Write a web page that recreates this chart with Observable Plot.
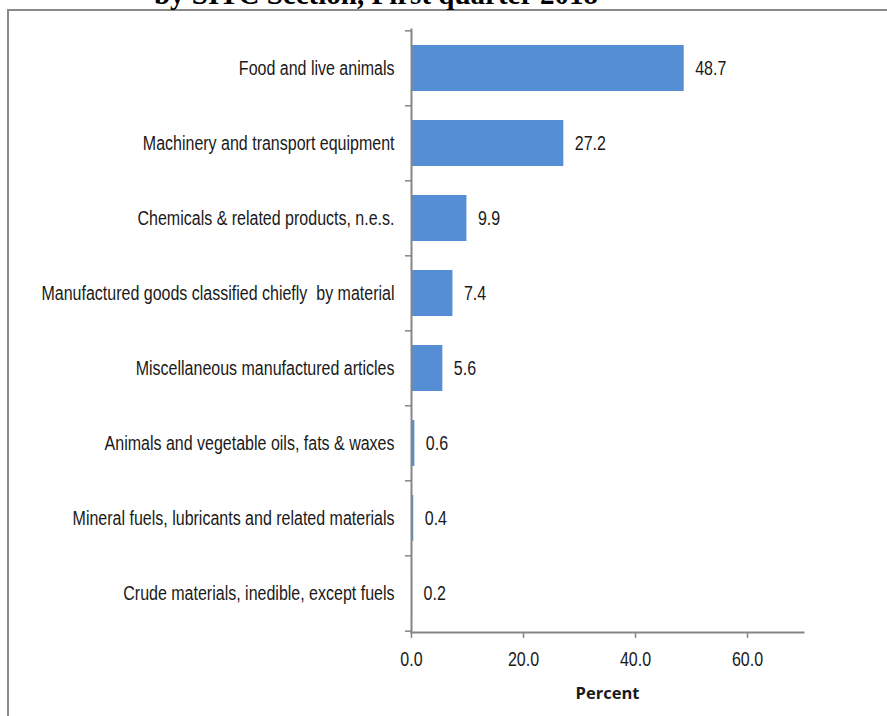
<!DOCTYPE html>
<html>
<head>
<meta charset="utf-8">
<script src="https://cdn.jsdelivr.net/npm/d3@7"></script>
<script src="https://cdn.jsdelivr.net/npm/@observablehq/plot@0.6"></script>
<style>
  html, body { margin: 0; padding: 0; background: #fff; width: 887px; height: 716px; overflow: hidden; }
  #wrap { position: relative; width: 887px; height: 716px; }
  #chart { position: absolute; left: 0; top: 0; }
  #chart svg text { white-space: pre; }
  #frame { position: absolute; left: 7px; top: 9px; width: 1000px; height: 1000px; border: 2px solid #8a8a8a; box-sizing: border-box; pointer-events: none; }
  #title { position: absolute; left: 0; top: -20px; width: 752px; text-align: center; font-family: "Liberation Serif", "Times New Roman", serif; font-weight: bold; font-size: 29px; line-height: 29px; color: #000; white-space: nowrap; }
</style>
</head>
<body>
<div id="wrap">
  <div id="chart"></div>
  <div id="frame"></div>
  <div id="title">by SITC Section, First quarter 2018</div>
</div>
<script>
const categories = [
  "Food and live animals",
  "Machinery and transport equipment",
  "Chemicals & related products, n.e.s.",
  "Manufactured goods classified chiefly  by material",
  "Miscellaneous manufactured articles",
  "Animals and vegetable oils, fats & waxes",
  "Mineral fuels, lubricants and related materials",
  "Crude materials, inedible, except fuels"
];
const values = [48.7, 27.2, 9.9, 7.4, 5.6, 0.6, 0.4, 0.2];
const xTicks = [0, 20, 40, 60];
const xLabel = "Percent";

const data = categories.map((c, i) => ({category: c, value: values[i]}));

const W = 887, H = 716, mT = 29, mB = 84, mL = 411, mR = 84;
const step = (H - mT - mB) / categories.length;
const axisGray = "#868686";
const textColor = "#1a1a1a";
const sans = "'Liberation Sans', Arial, sans-serif";

const chart = Plot.plot({
  width: W,
  height: H,
  marginTop: mT,
  marginBottom: mB,
  marginLeft: mL,
  marginRight: mR,
  style: {fontFamily: sans, fontSize: "20px", color: textColor, background: "transparent"},
  x: {domain: [0, 70]},
  y: {domain: categories, paddingInner: 0.39, paddingOuter: 0.195},
  marks: [
    Plot.barX(data, {x: "value", y: "category", fill: "#558ed5"}),
    Plot.text(data, {x: "value", y: "category", text: d => d.value.toFixed(1), textAnchor: "start", dx: 11, fill: textColor, fontSize: 20, className: "narrow"}),
    Plot.frame({anchor: "left", stroke: axisGray, strokeWidth: 2}),
    Plot.frame({anchor: "bottom", stroke: axisGray, strokeWidth: 2}),
    Plot.ruleY(categories, {y: d => d, x1: 0, x2: 0, insetLeft: -6, dy: -step / 2, stroke: axisGray, strokeWidth: 1.5}),
    Plot.ruleY(categories.slice(-1), {y: d => d, x1: 0, x2: 0, insetLeft: -6, dy: step / 2, stroke: axisGray, strokeWidth: 1.5}),
    Plot.axisY({tickSize: 0, tickPadding: 17, label: null, fill: textColor, fontSize: 20, className: "narrow"}),
    Plot.axisX({ticks: xTicks, tickFormat: d => d.toFixed(1), tickSize: 6, tickPadding: 13, stroke: axisGray, strokeWidth: 1.5, fill: textColor, label: null, fontSize: 20, className: "narrow"}),
    Plot.text([xLabel], {frameAnchor: "bottom", text: d => d, dy: 61, lineAnchor: "middle", fontFamily: "'Open Sans', sans-serif", fontWeight: "bold", fontSize: 16.5, fill: textColor})
  ]
});
document.getElementById("chart").appendChild(chart);

// Condense the Arial-like labels horizontally around their anchor (reference uses a narrow, tall rendering)
d3.select(chart).selectAll(".narrow text").each(function() {
  const x = +(this.getAttribute("x") || 0);
  const t = this.getAttribute("transform") || "";
  this.setAttribute("transform", `${t} translate(${x},0) scale(0.8,1) translate(${-x},0)`.trim());
});
</script>
</body>
</html>
